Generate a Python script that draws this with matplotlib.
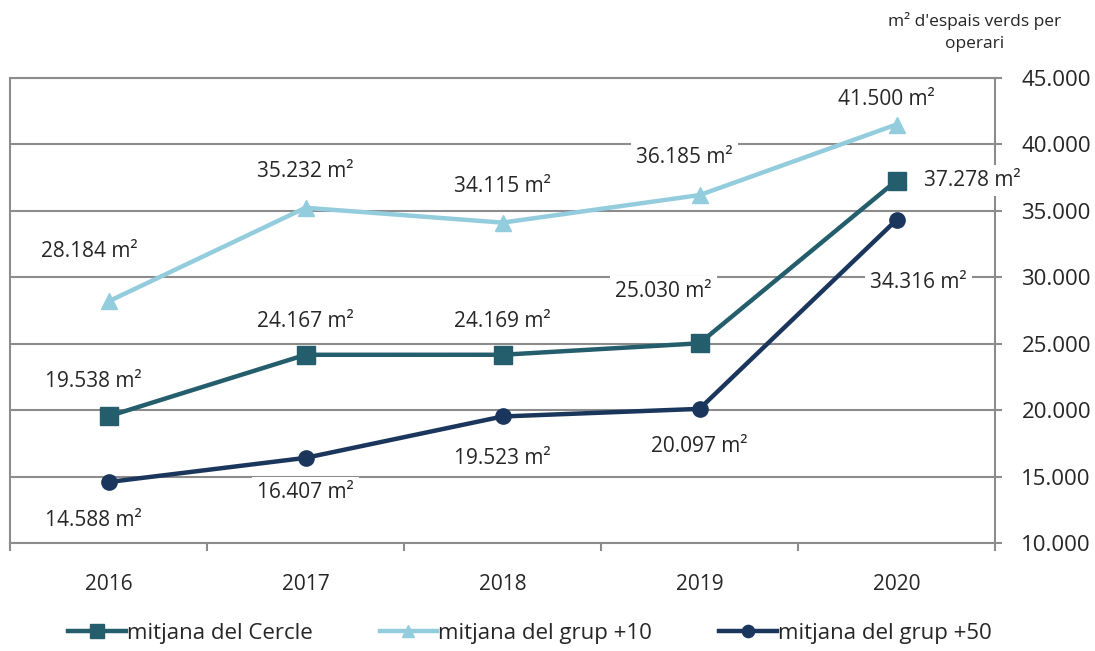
import matplotlib
matplotlib.use("Agg")
import matplotlib.pyplot as plt
from matplotlib.ticker import FuncFormatter, FixedLocator

plt.rcParams['font.family'] = ['Open Sans', 'DejaVu Sans']

years = ['2016', '2017', '2018', '2019', '2020']
cercle = [19538, 24167, 24169, 25030, 37278]
grup10 = [28184, 35232, 34115, 36185, 41500]
grup50 = [14588, 16407, 19523, 20097, 34316]
series_names = ['mitjana del Cercle', 'mitjana del grup +10', 'mitjana del grup +50']

# estil
colors = ['#245d6b', '#93cddd', '#1b365d']
markers = ['s', '^', 'o']
msizes = [13, 11, 11]
# desplacaments de les etiquetes (punts) i alineacio
offsets = [
    [(-11, 25), (0, 24), (0, 24), (-26, 37), (20, 0)],
    [(-14, 36), (0, 26), (0, 26), (-11, 27), (-7, 18)],
    [(-11, -28), (0, -25), (0, -30), (0, -27), (16, -45)],
]
aligns = [
    ['center', 'center', 'center', 'center', 'left'],
    ['center'] * 5,
    ['center'] * 5,
]

def fmt(v):
    return f"{v:,.0f}".replace(',', '.')

fig = plt.figure(figsize=(10.95, 6.51), dpi=100)
ax = fig.add_axes([10 / 1095, 108 / 651, 985 / 1095, 465 / 651])

x = list(range(len(years)))
for vals, name, c, m, ms, offs, als in zip([cercle, grup10, grup50], series_names,
                                             colors, markers, msizes, offsets, aligns):
    ax.plot(x, vals, color=c, lw=3.2, marker=m, markersize=ms, label=name, zorder=4)
    for xi, v, o, a in zip(x, vals, offs, als):
        ax.annotate(fmt(v) + ' m²', (xi, v), xytext=o, textcoords='offset points',
                    ha=a, va='center', fontsize=15, color='#262626', zorder=3,
                    bbox=dict(boxstyle='square,pad=0.25', fc='white', ec='none'))

ax.set_xlim(-0.5, 4.5)
ax.set_ylim(10000, 45000)
ax.set_yticks(range(10000, 45001, 5000))
ax.yaxis.set_major_formatter(FuncFormatter(lambda v, p: fmt(v)))
ax.yaxis.tick_right()
ax.grid(axis='y', color='#8c8c8c', lw=1.5, zorder=1)
ax.set_axisbelow(True)

ax.set_xticks(x)
ax.set_xticklabels(years)
ax.xaxis.set_minor_locator(FixedLocator([i - 0.5 for i in range(len(years) + 1)]))
ax.tick_params(axis='x', which='major', length=0, pad=22, labelsize=15, labelcolor='#262626')
ax.tick_params(axis='x', which='minor', length=6, width=1.5, color='#8c8c8c')
ax.tick_params(axis='y', length=5, width=1.5, color='#8c8c8c', pad=14,
               labelsize=16, labelcolor='#262626')

for s in ['left', 'right', 'bottom', 'top']:
    ax.spines[s].set_color('#8c8c8c')
    ax.spines[s].set_linewidth(1.5)

fig.text(975 / 1095, 1 - 32 / 651, "m² d'espais verds per\noperari", ha='center',
         va='center', fontsize=12.5, color='#262626', linespacing=1.5)

fig.legend(loc='center', bbox_to_anchor=(0.484, 1 - 633 / 651), ncol=3, frameon=False,
           fontsize=16, handlelength=2.6, handletextpad=0.05, columnspacing=3.0,
           markerscale=0.8, labelcolor='#262626')

fig.savefig('out.png', dpi=100)
